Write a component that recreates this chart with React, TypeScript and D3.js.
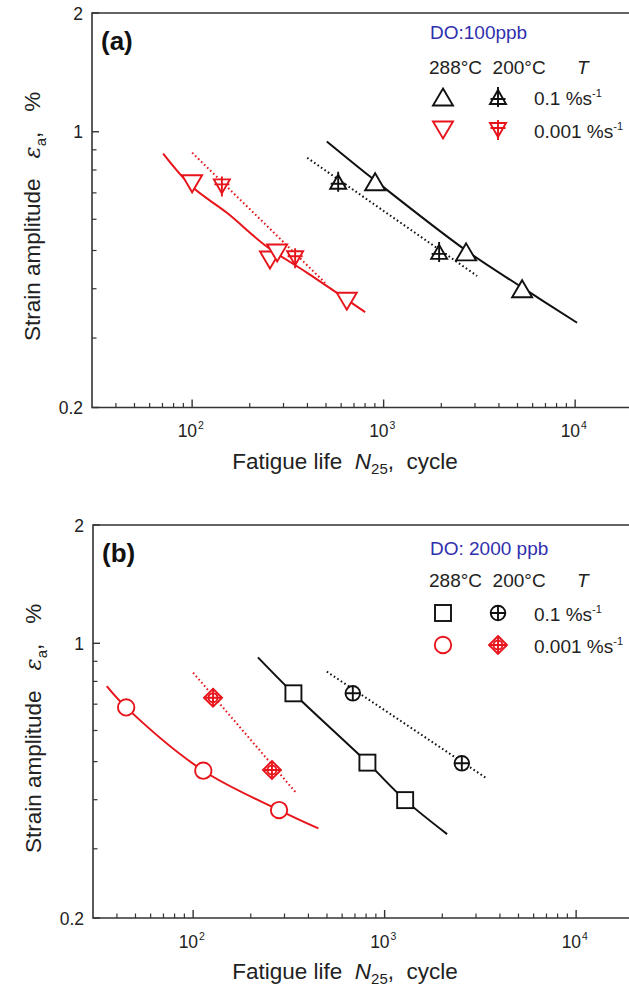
import React from 'react';
import * as d3 from 'd3';

const W = 629;
const H = 990;

// ---------- Panel (a): DO 100 ppb ----------
const aN288Fast = [903, 2696, 5287];
const aE288Fast = [0.747, 0.496, 0.4];
const aN200Fast = [579, 1949];
const aE200Fast = [0.747, 0.496];
const aN288Slow = [100, 255, 278, 642];
const aE288Slow = [0.738, 0.473, 0.493, 0.372];
const aN200Slow = [143, 345];
const aE200Slow = [0.727, 0.478];
// fitted curves
const aFitN288Fast = [505, 903, 2696, 5287, 10240];
const aFitE288Fast = [0.945, 0.752, 0.5, 0.403, 0.328];
const aFitN200Fast = [399, 3077];
const aFitE200Fast = [0.859, 0.431];
const aFitN288Slow = [70.6, 100, 152, 246, 399, 801];
const aFitE288Slow = [0.88, 0.725, 0.623, 0.511, 0.439, 0.349];
const aFitN200Slow = [100, 495];
const aFitE200Slow = [0.885, 0.414];

// ---------- Panel (b): DO 2000 ppb ----------
const bN288Fast = [334, 813, 1280];
const bE288Fast = [0.746, 0.497, 0.399];
const bN200Fast = [682, 2530];
const bE200Fast = [0.746, 0.495];
const bN288Slow = [44.7, 113, 281];
const bE288Slow = [0.687, 0.474, 0.3765];
const bN200Slow = [127, 258];
const bE200Slow = [0.727, 0.476];
const bFitN288Fast = [218, 334, 813, 1280, 2119];
const bFitE288Fast = [0.921, 0.746, 0.497, 0.399, 0.327];
const bFitN200Fast = [499, 3418];
const bFitE200Fast = [0.847, 0.453];
const bFitN288Slow = [35.4, 44.7, 113, 281, 451];
const bFitE288Slow = [0.778, 0.687, 0.474, 0.3765, 0.338];
const bFitN200Slow = [100, 344];
const bFitE200Slow = [0.842, 0.417];

// ---------- axes ----------
const xDomain = [30, 30000];
const yDomain = [0.2, 2];
const xMajor = [100, 1000, 10000];
const xMajorExp = ['2', '3', '4'];
const xMinor = [40, 50, 60, 70, 80, 90, 200, 300, 400, 500, 600, 700, 800, 900, 2000, 3000, 4000, 5000, 6000, 7000, 8000, 9000, 20000];
const yMajor = [0.2, 1, 2];
const yMajorLabels = ['0.2', '1', '2'];
const yMinor = [0.3, 0.4, 0.5, 0.6, 0.7, 0.8, 0.9];

const RED = '#e8141c';
const BLACK = '#111111';
const BLUE = '#2f2fae';
const TXT = '#222222';
const FONT = "'Liberation Sans', Arial, sans-serif";

type MType = 'triUp' | 'crossTriUp' | 'triDown' | 'crossTriDown' | 'square' | 'circle' | 'crossCircle' | 'crossDiamond';

function Marker({ type, x, y, color }: { type: MType; x: number; y: number; color: string }) {
  const sw = 1.9;
  const common = { fill: 'white', stroke: color, strokeWidth: sw } as any;
  const line = { fill: 'none', stroke: color, strokeWidth: sw } as any;
  let el: any = null;
  switch (type) {
    case 'triUp':
      el = <path d="M0,-8.5L10,8.5L-10,8.5Z" {...common} />;
      break;
    case 'triDown':
      el = <path d="M0,8.5L10,-8.5L-10,-8.5Z" {...common} />;
      break;
    case 'crossTriUp':
      el = (
        <g>
          <path d="M0,-7L8,7L-8,7Z" {...common} />
          <path d="M0,-10V10M-7.5,2H7.5" {...line} />
        </g>
      );
      break;
    case 'crossTriDown':
      el = (
        <g>
          <path d="M0,7L8,-7L-8,-7Z" {...common} />
          <path d="M0,-10V10M-7.5,-2H7.5" {...line} />
        </g>
      );
      break;
    case 'square':
      el = <rect x={-8} y={-8} width={16} height={16} {...common} />;
      break;
    case 'circle':
      el = <circle r={8.2} {...common} />;
      break;
    case 'crossCircle':
      el = (
        <g>
          <circle r={7.3} {...common} />
          <path d="M0,-7.3V7.3M-7.3,0H7.3" {...line} />
        </g>
      );
      break;
    case 'crossDiamond':
      el = (
        <g>
          <path d="M0,-9L9,0L0,9L-9,0Z" {...common} />
          <circle r={4.5} {...line} />
          <path d="M0,-9V9M-9,0H9" {...line} />
        </g>
      );
      break;
  }
  return <g transform={`translate(${x},${y})`}>{el}</g>;
}

type Series = { n: number[]; e: number[]; type: MType; color: string };
type Fit = { n: number[]; e: number[]; color: string; dotted: boolean };
type Leg = { doY: number; hdY: number; r1: number; r2: number };

function Panel({
  top, bottom, left, label, doText, series, fits, legendTypes, leg,
}: {
  top: number; bottom: number; left: number; label: string; doText: string;
  series: Series[]; fits: Fit[]; legendTypes: MType[]; leg: Leg;
}) {
  const decade = 191.5;
  const x = d3.scaleLog().domain(xDomain).range([left, left + 3 * decade]);
  const y = d3.scaleLog().domain(yDomain).range([bottom, top]);
  const lineGen = d3
    .line<[number, number]>()
    .x((d) => x(d[0]))
    .y((d) => y(d[1]))
    .curve(d3.curveCatmullRom.alpha(0.5));
  const right = left + 3 * decade + 20;
  const clipId = `clip-${label.replace(/[()]/g, '')}`;
  const lx1 = 443, lx2 = 498, lx3 = 534;
  return (
    <g>
      <defs>
        <clipPath id={clipId}>
          <rect x={left} y={top} width={right - left} height={bottom - top} />
        </clipPath>
      </defs>
      {/* frame */}
      <path d={`M${right},${top}H${left}V${bottom}H${right}`} fill="none" stroke="#333" strokeWidth={1.6} />
      {/* x ticks */}
      {xMajor.map((v) => (
        <line key={'xM' + v} x1={x(v)} x2={x(v)} y1={bottom} y2={bottom - 8} stroke="#333" strokeWidth={1.4} />
      ))}
      {xMinor.map((v) => (
        <line key={'xm' + v} x1={x(v)} x2={x(v)} y1={bottom} y2={bottom - 4.5} stroke="#333" strokeWidth={1.2} />
      ))}
      {xMajor.map((v, i) => (
        <text key={'xl' + v} x={x(v) - 14.5} y={bottom + 29.5} fontSize={17.5} fontFamily={FONT} fill={TXT}>
          10
          <tspan dx={1} dy={-8} fontSize={10.5}>{xMajorExp[i]}</tspan>
        </text>
      ))}
      {/* y ticks */}
      {yMajor.map((v) => (
        <line key={'yM' + v} x1={left} x2={left + 7} y1={y(v)} y2={y(v)} stroke="#333" strokeWidth={1.4} />
      ))}
      {yMinor.map((v) => (
        <line key={'ym' + v} x1={left} x2={left + 4.5} y1={y(v)} y2={y(v)} stroke="#333" strokeWidth={1.2} />
      ))}
      {yMajor.map((v, i) => (
        <text key={'yl' + v} x={left - 9} y={y(v) + 6.5} textAnchor="end" fontSize={17.5} fontFamily={FONT} fill={TXT}>
          {yMajorLabels[i]}
        </text>
      ))}
      {/* axis titles */}
      <text x={345} y={bottom + 61} textAnchor="middle" fontSize={22.5} fontFamily={FONT} fill={TXT}>
        Fatigue life{'\u00a0\u00a0'}
        <tspan fontStyle="italic">N</tspan>
        <tspan dy={5} fontSize={15}>25</tspan>
        <tspan dy={-5}>,{'\u00a0\u00a0'}cycle</tspan>
      </text>
      <text transform={`translate(${left - 52},${top + 328}) rotate(-90)`} textAnchor="start" fontSize={22.5} fontFamily={FONT} fill={TXT}>
        Strain amplitude
        <tspan dx={20} fontStyle="italic" fontFamily="'DejaVu Serif', serif">ε</tspan>
        <tspan dy={6} fontSize={15}>a</tspan>
        <tspan dy={-6}>,</tspan>
        <tspan dx={20}>%</tspan>
      </text>
      {/* panel label */}
      <text x={left + 9} y={top + 37} fontSize={26} fontWeight="bold" fontFamily={FONT} fill="#111">
        {label}
      </text>
      {/* fits and markers */}
      <g clipPath={`url(#${clipId})`}>
        {fits.map((f, i) => (
          <path
            key={'f' + i}
            d={lineGen(f.n.map((n, j) => [n, f.e[j]] as [number, number])) || ''}
            fill="none"
            stroke={f.color}
            strokeWidth={2}
            strokeDasharray={f.dotted ? '1.6 2.6' : undefined}
          />
        ))}
        {series.map((s, i) =>
          s.n.map((n, j) => <Marker key={'m' + i + '-' + j} type={s.type} x={x(n)} y={y(s.e[j])} color={s.color} />)
        )}
      </g>
      {/* legend */}
      <text x={430} y={leg.doY} fontSize={19} fontFamily={FONT} fill={BLUE}>{doText}</text>
      <text x={429} y={leg.hdY} fontSize={19} fontFamily={FONT} fill={TXT}>
        288°C{'\u00a0\u00a0'}200°C
      </text>
      <text x={577} y={leg.hdY} fontSize={19} fontFamily={FONT} fontStyle="italic" fill={TXT}>T</text>
      <Marker type={legendTypes[0]} x={lx1} y={leg.r1} color={BLACK} />
      <Marker type={legendTypes[1]} x={lx2} y={leg.r1} color={BLACK} />
      <text x={lx3} y={leg.r1 + 7.5} fontSize={19} fontFamily={FONT} fill={TXT}>
        0.1 %s<tspan dy={-8} fontSize={11}>-1</tspan>
      </text>
      <Marker type={legendTypes[2]} x={lx1} y={leg.r2} color={RED} />
      <Marker type={legendTypes[3]} x={lx2} y={leg.r2} color={RED} />
      <text x={lx3} y={leg.r2 + 7.5} fontSize={19} fontFamily={FONT} fill={TXT}>
        0.001 %s<tspan dy={-8} fontSize={11}>-1</tspan>
      </text>
    </g>
  );
}

export default function App() {
  const seriesA: Series[] = [
    { n: aN288Fast, e: aE288Fast, type: 'triUp', color: BLACK },
    { n: aN200Fast, e: aE200Fast, type: 'crossTriUp', color: BLACK },
    { n: aN288Slow, e: aE288Slow, type: 'triDown', color: RED },
    { n: aN200Slow, e: aE200Slow, type: 'crossTriDown', color: RED },
  ];
  const fitsA: Fit[] = [
    { n: aFitN288Fast, e: aFitE288Fast, color: BLACK, dotted: false },
    { n: aFitN200Fast, e: aFitE200Fast, color: BLACK, dotted: true },
    { n: aFitN288Slow, e: aFitE288Slow, color: RED, dotted: false },
    { n: aFitN200Slow, e: aFitE200Slow, color: RED, dotted: true },
  ];
  const seriesB: Series[] = [
    { n: bN288Fast, e: bE288Fast, type: 'square', color: BLACK },
    { n: bN200Fast, e: bE200Fast, type: 'crossCircle', color: BLACK },
    { n: bN288Slow, e: bE288Slow, type: 'circle', color: RED },
    { n: bN200Slow, e: bE200Slow, type: 'crossDiamond', color: RED },
  ];
  const fitsB: Fit[] = [
    { n: bFitN288Fast, e: bFitE288Fast, color: BLACK, dotted: false },
    { n: bFitN200Fast, e: bFitE200Fast, color: BLACK, dotted: true },
    { n: bFitN288Slow, e: bFitE288Slow, color: RED, dotted: false },
    { n: bFitN200Slow, e: bFitE200Slow, color: RED, dotted: true },
  ];
  return (
    <svg
      width={W}
      height={H}
      viewBox={`0 0 ${W} ${H}`}
      style={{ position: 'absolute', left: 0, top: 0, background: 'white' }}
    >
      <rect width={W} height={H} fill="white" />
      <Panel
        top={13}
        bottom={407.5}
        left={92}
        label="(a)"
        doText="DO:100ppb"
        series={seriesA}
        fits={fitsA}
        legendTypes={['triUp', 'crossTriUp', 'triDown', 'crossTriDown']}
        leg={{ doY: 39, hdY: 74, r1: 97, r2: 130 }}
      />
      <Panel
        top={525}
        bottom={918}
        left={93}
        label="(b)"
        doText="DO: 2000 ppb"
        series={seriesB}
        fits={fitsB}
        legendTypes={['square', 'crossCircle', 'circle', 'crossDiamond']}
        leg={{ doY: 555, hdY: 587, r1: 613, r2: 645 }}
      />
    </svg>
  );
}
